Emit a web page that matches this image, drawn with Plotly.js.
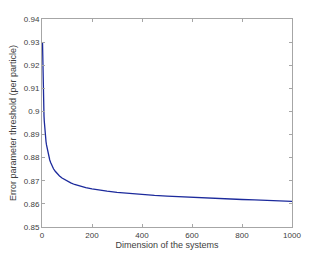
<!DOCTYPE html>
<html>
<head>
<meta charset="utf-8">
<script src="https://cdn.plot.ly/plotly-3.0.1.min.js"></script>
<style>html,body{margin:0;padding:0;background:#fff;}#chart{width:323px;height:255px;}</style>
</head>
<body>
<div id="chart"></div>
<script>
const dimension = [2, 3, 4, 5, 6, 7, 8, 9, 10, 12, 14, 16, 18, 20, 23, 27, 31, 35, 40, 46, 53, 60, 70, 80, 90, 100, 115, 130, 150, 175, 200, 230, 260, 300, 350, 400, 450, 500, 550, 600, 650, 700, 750, 800, 850, 900, 950, 1000];
const threshold = [0.930, 0.920, 0.913, 0.908, 0.904, 0.900, 0.898, 0.896, 0.894, 0.891, 0.889, 0.8870, 0.8855, 0.8842, 0.8825, 0.8805, 0.8790, 0.8778, 0.8765, 0.8752, 0.8741, 0.8731, 0.8721, 0.8712, 0.8705, 0.8699, 0.8691, 0.8684, 0.8677, 0.8670, 0.8665, 0.8659, 0.8655, 0.8650, 0.8645, 0.8641, 0.8637, 0.8634, 0.8631, 0.8628, 0.8626, 0.8623, 0.8621, 0.8619, 0.8617, 0.8615, 0.8613, 0.8611];
const xTicks = [0, 200, 400, 600, 800, 1000];
const yTicks = [0.85, 0.86, 0.87, 0.88, 0.89, 0.9, 0.91, 0.92, 0.93, 0.94];
const yTickText = ['0.85', '0.86', '0.87', '0.88', '0.89', '0.9', '0.91', '0.92', '0.93', '0.94'];

const axisCommon = {
  showgrid: false, zeroline: false, showline: true, linecolor: '#a6a6a6', linewidth: 1,
  mirror: 'ticks', ticks: 'inside', ticklen: 3, tickcolor: '#a6a6a6', tickwidth: 1,
  tickfont: {family: 'Liberation Sans, Arial, sans-serif', size: 8, color: '#404040'}
};

Plotly.newPlot('chart', [{
  x: dimension, y: threshold, type: 'scatter', mode: 'lines',
  line: {color: '#1c2a9c', width: 1.3, shape: 'linear'}
}], {
  width: 323, height: 255,
  margin: {l: 42, r: 31, t: 19, b: 28},
  paper_bgcolor: '#ffffff', plot_bgcolor: '#ffffff',
  showlegend: false,
  xaxis: Object.assign({}, axisCommon, {
    range: [0, 1000], tickvals: xTicks, ticktext: xTicks.map(String),
    title: {text: 'Dimension of the systems', standoff: 2, font: {family: 'Liberation Sans, Arial, sans-serif', size: 9, color: '#404040'}}
  }),
  yaxis: Object.assign({}, axisCommon, {
    range: [0.85, 0.94], tickvals: yTicks, ticktext: yTickText,
    title: {text: 'Error parameter threshold (per particle)', standoff: 5, font: {family: 'Liberation Sans, Arial, sans-serif', size: 9, color: '#404040'}}
  })
}, {displayModeBar: false, staticPlot: true});
</script>
</body>
</html>
